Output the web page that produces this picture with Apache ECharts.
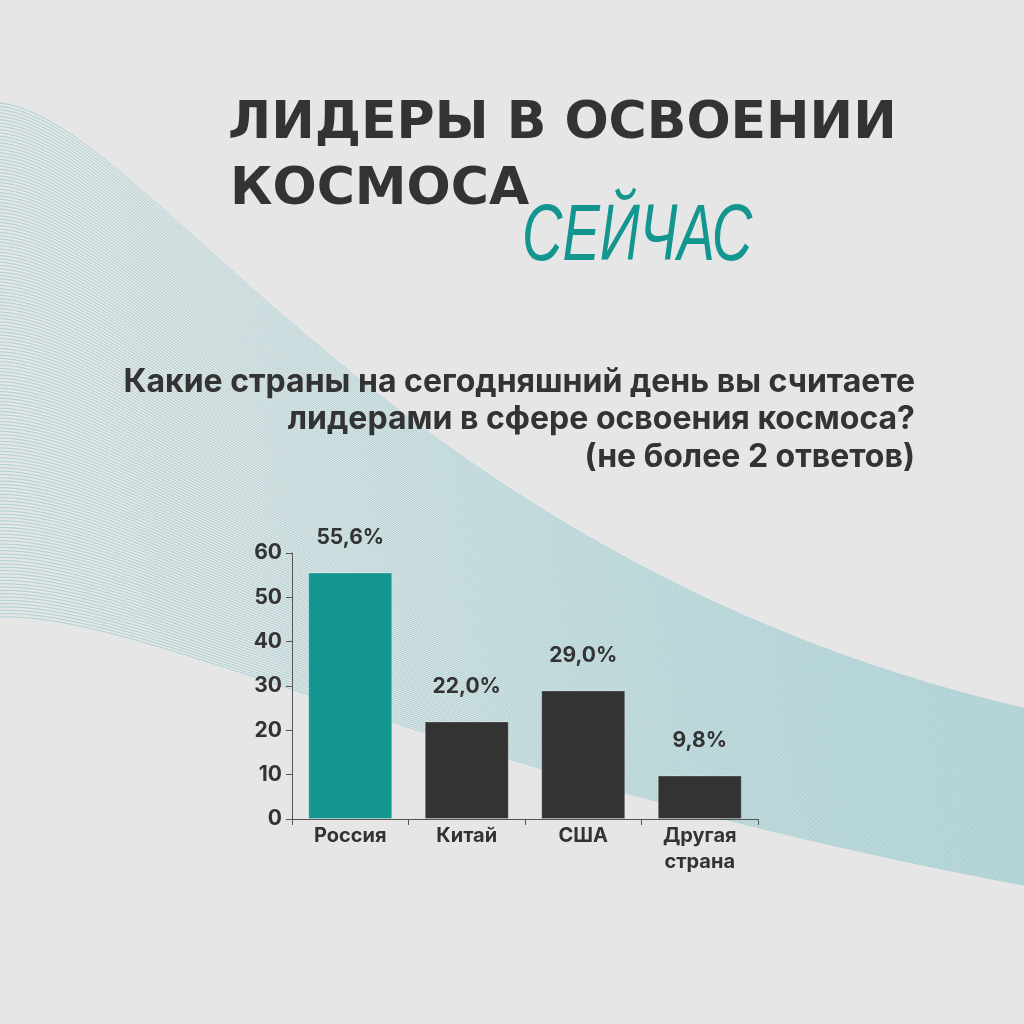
<!DOCTYPE html>
<html>
<head>
<meta charset="utf-8">
<script src="https://cdn.jsdelivr.net/npm/echarts@6/dist/echarts.min.js"></script>
<style>
  html, body { margin: 0; padding: 0; background: #e6e6e6; }
  #chart { width: 1024px; height: 1024px; }
</style>
</head>
<body>
<div id="chart"></div>
<script>
// данные
var categories = ["Россия", "Китай", "США", "Другая\nстрана"];
var values = [55.6, 22.0, 29.0, 9.8];
var barColors = ["#12968f", "#333333", "#333333", "#333333"];
var yTicks = [0, 10, 20, 30, 40, 50, 60];

var chart = echarts.init(document.getElementById("chart"));

// фоновая волна из тонких линий
function bandLines() {
  var top = [[0, 103], [150, 120], [400, 570], [1040, 712]];
  var bot = [[0, 617], [150, 612], [450, 780], [1040, 888]];
  var n = 155;
  var out = [];
  for (var i = 0; i <= n; i++) {
    var t = i / n;
    var p = top.map(function (a, k) {
      return [a[0] + (bot[k][0] - a[0]) * t, a[1] + (bot[k][1] - a[1]) * t];
    });
    out.push({
      type: "bezierCurve",
      z: 0,
      silent: true,
      shape: {
        x1: p[0][0], y1: p[0][1],
        cpx1: p[1][0], cpy1: p[1][1],
        cpx2: p[2][0], cpy2: p[2][1],
        x2: p[3][0], y2: p[3][1]
      },
      style: { stroke: "rgba(80,178,188,0.5)", lineWidth: 0.8, fill: null }
    });
  }
  return out;
}

var subLines = [
  "Какие страны на сегодняшний день вы считаете",
  "лидерами в сфере освоения космоса?",
  "(не более 2 ответов)"
];

var texts = [
  {
    type: "text", x: 228, y: 98, z: 10,
    style: { text: "ЛИДЕРЫ В ОСВОЕНИИ", fill: "#333333", font: "bold 52px 'DejaVu Sans'" }
  },
  {
    type: "text", x: 230, y: 164, z: 10,
    style: { text: "КОСМОСА", fill: "#333333", font: "bold 52px 'DejaVu Sans'" }
  },
  {
    type: "text", x: 522, y: 198, z: 10, scaleX: 0.7,
    style: { text: "СЕЙЧАС", fill: "#12968f", font: "italic 80px 'Liberation Sans'" }
  }
].concat(subLines.map(function (s, i) {
  return {
    type: "text", x: 915, y: 366 + i * 37.5, z: 10,
    style: { text: s, fill: "#333333", font: "bold 32px Inter", align: "right", textAlign: "right" }
  };
}));

var option = {
  backgroundColor: "#e6e6e6",
  animation: false,
  graphic: bandLines().concat(texts),
  grid: { left: 292, right: 266, top: 553, bottom: 205 },
  xAxis: {
    type: "category",
    data: categories,
    axisLine: { lineStyle: { color: "#555555", width: 1 } },
    axisTick: { show: true, length: 6, lineStyle: { color: "#555555" } },
    axisLabel: {
      color: "#333333", fontFamily: "Inter", fontWeight: "bold", fontSize: 20,
      margin: 4, lineHeight: 26
    }
  },
  yAxis: {
    type: "value",
    min: 0, max: 60, interval: 10,
    splitLine: { show: false },
    axisLine: { show: true, lineStyle: { color: "#555555", width: 1 } },
    axisTick: { show: true, length: 6, lineStyle: { color: "#555555" } },
    axisLabel: {
      color: "#333333", fontFamily: "Inter", fontWeight: "bold", fontSize: 21, margin: 10,
      formatter: function (v) { return yTicks.indexOf(v) >= 0 ? String(v) : ""; }
    }
  },
  series: [{
    type: "bar",
    barWidth: 84,
    z: 5,
    data: values.map(function (v, i) {
      return { value: v, itemStyle: { color: barColors[i], borderColor: "rgba(255,255,255,0.25)", borderWidth: 1 } };
    }),
    label: {
      show: true, position: "top", distance: 24,
      color: "#333333", fontFamily: "Inter", fontWeight: "bold", fontSize: 21,
      formatter: function (p) { return p.value.toFixed(1).replace(".", ",") + "%"; }
    }
  }]
};

chart.setOption(option);
</script>
</body>
</html>
